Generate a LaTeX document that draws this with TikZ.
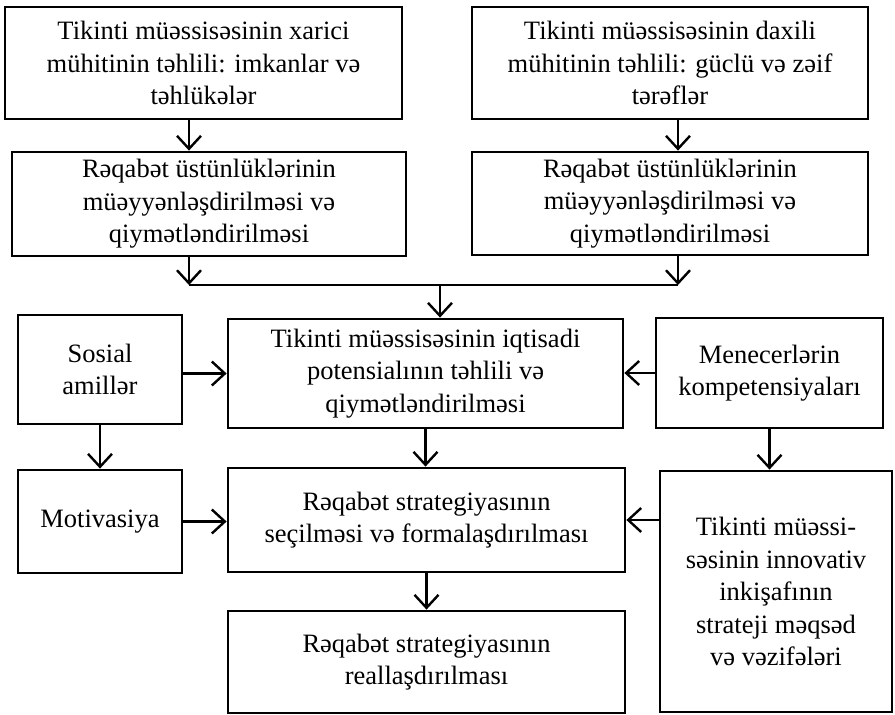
\documentclass[tikz,border=0pt]{standalone}
\usepackage{fontspec}
\setmainfont{Liberation Serif}
\usetikzlibrary{arrows.meta,positioning,calc}

\begin{document}
\begin{tikzpicture}[x=1pt,y=-1pt,
	box/.style={draw,line width=2.8pt,inner sep=0pt,align=center,font=\fontsize{26.5}{32.5}\selectfont},
	arr/.style={line width=2.4pt,-{Straight Barb[length=13pt,width=24pt,line width=2.4pt]}}]
			\useasboundingbox (0,0) rectangle (895,715);
			\node[box,minimum width=397pt,minimum height=112pt] (extA) at (203.5,63) {Tikinti müəssisəsinin xarici\\mühitinin təhlili: imkanlar və\\təhlükələr};
			\node[box,minimum width=396pt,minimum height=112pt] (intA) at (670,63) {Tikinti müəssisəsinin daxili\\mühitinin təhlili: güclü və zəif\\tərəflər};
			\node[box,minimum width=394pt,minimum height=104pt] (advA) at (209,204) {Rəqabət üstünlüklərinin\\müəyyənləşdirilməsi və\\qiymətləndirilməsi};
			\node[box,minimum width=396pt,minimum height=103pt] (advB) at (670,203.5) {Rəqabət üstünlüklərinin\\müəyyənləşdirilməsi və\\qiymətləndirilməsi};
			\node[box,minimum width=395pt,minimum height=109pt] (pot) at (425.5,373.5) {Tikinti müəssisəsinin iqtisadi\\potensialının təhlili və\\qiymətləndirilməsi};
			\node[box,minimum width=164pt,minimum height=109pt] (sosial) at (100,369.5) {Sosial\\amillər};
			\node[box,minimum width=227pt,minimum height=110pt] (menec) at (769.5,373) {Menecerlərin\\kompetensiyaları};
			\node[box,minimum width=164pt,minimum height=103pt] (motiv) at (100,521.5) {Motivasiya};
			\node[box,minimum width=397pt,minimum height=104pt] (secim) at (426.5,520) {Rəqabət strategiyasının\\seçilməsi və formalaşdırılması};
			\node[box,minimum width=397pt,minimum height=102pt] (real) at (426.5,662) {Rəqabət strategiyasının\\reallaşdırılması};
			\node[box,minimum width=232pt,minimum height=241pt] (innov) at (776,591.5) {Tikinti müəssi-\\səsinin innovativ\\inkişafının\\strateji məqsəd\\və vəzifələri};
			\coordinate (j1) at (189,285);
			\coordinate (j2) at (678,285);
			\coordinate (j3) at (440,285);
			\draw[arr] (j1 |- extA.south) -- (j1 |- advA.north);
			\draw[arr] (j2 |- intA.south) -- (j2 |- advB.north);
			\draw[arr] (j1 |- advA.south) -- (j1);
			\draw[arr] (j2 |- advB.south) -- (j2);
			\draw[line width=2.8pt] (j1) -- (j2);
			\draw[arr] (j3) -- (j3 |- pot.north);
			\draw[arr] (sosial.east |- pot.west) -- (pot.west);
			\draw[arr] (menec.west) -- (menec.west -| pot.east);
			\draw[arr] (sosial.south) -- (motiv.north);
			\draw[arr] (pot.south) -- (pot.south |- secim.north);
			\draw[arr] (motiv.east) -- (motiv.east -| secim.west);
			\draw[arr] (menec.south) -- (menec.south |- innov.north);
			\draw[arr] (innov.west |- secim.east) -- (secim.east);
			\draw[arr] (secim.south) -- (real.north);
			\end{tikzpicture}
\end{document}
